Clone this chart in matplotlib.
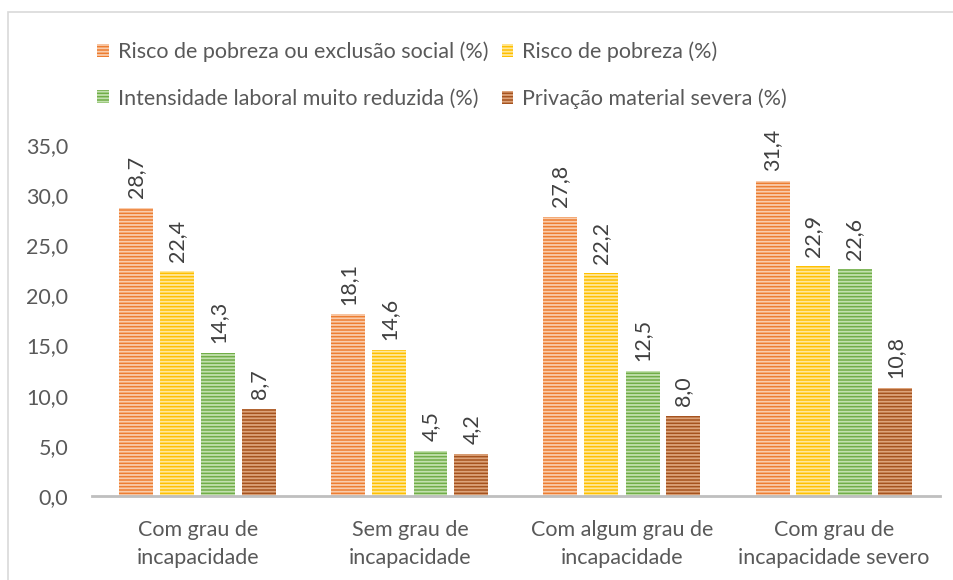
import matplotlib
matplotlib.use('Agg')
import matplotlib.pyplot as plt
from matplotlib.patches import Rectangle
import numpy as np

# data
categories = ["Com grau de\nincapacidade", "Sem grau de\nincapacidade",
              "Com algum grau de\nincapacidade", "Com grau de\nincapacidade severo"]
series_names = ["Risco de pobreza ou exclusão social (%)", "Risco de pobreza (%)",
                "Intensidade laboral muito reduzida (%)", "Privação material severa (%)"]
risco_exclusao = [28.7, 18.1, 27.8, 31.4]
risco_pobreza = [22.4, 14.6, 22.2, 22.9]
intensidade = [14.3, 4.5, 12.5, 22.6]
privacao = [8.7, 4.2, 8.0, 10.8]
yticks = [0, 5, 10, 15, 20, 25, 30, 35]

colors = ["#ED7D31", "#FFC000", "#70AD47", "#A5521E"]
stripes = ["#F9CCAC", "#FFE79A", "#C2E0AE", "#DDA37A"]
gray = "#595959"

plt.rcParams['font.family'] = ['Lato', 'DejaVu Sans']
plt.rcParams['hatch.linewidth'] = 1.3

fig = plt.figure(figsize=(9.54, 5.8), dpi=100)
# light chart frame
fig.patches.append(Rectangle((8 / 954, -0.1), 1.2, 1 - 12 / 580 + 0.1, transform=fig.transFigure,
                             fill=False, edgecolor="#D9D9D9", linewidth=1.2))

ax = fig.add_axes([92 / 954, 1 - 496 / 580, 848 / 954, (496 - 145) / 580])

data = [risco_exclusao, risco_pobreza, intensidade, privacao]
x = np.arange(len(categories))
width = 34 / 212
step = 41 / 212
handles = []
for i, vals in enumerate(data):
    pos = x + (i - 1.5) * step
    bars = ax.bar(pos, vals, width, color=colors[i], edgecolor=stripes[i],
                  hatch="-----", linewidth=0, label=series_names[i])
    handles.append(bars)
    for b, v in zip(bars, vals):
        ax.annotate(("%.1f" % v).replace(".", ","), (b.get_x() + b.get_width() / 2, v),
                    xytext=(0, 7), textcoords="offset points", rotation=90,
                    ha="center", va="bottom", fontsize=15.5, color="#404040")

ax.set_xlim(-0.5, len(categories) - 0.5)
ax.set_ylim(0, 35)
ax.set_yticks(yticks)
ax.set_yticklabels([("%.1f" % t).replace(".", ",") for t in yticks])
ax.set_xticks(x)
ax.set_xticklabels(categories, linespacing=1.5)
ax.tick_params(axis="both", length=0, colors=gray, labelsize=15.5)
ax.tick_params(axis="y", pad=17)
ax.tick_params(axis="x", pad=17)
for s in ["top", "right", "left"]:
    ax.spines[s].set_visible(False)
ax.spines["bottom"].set_color("#BFBFBF")
ax.spines["bottom"].set_linewidth(2)

# legend filled row by row: matplotlib fills columns, so reorder
order = [0, 2, 1, 3]
leg = fig.legend([handles[k] for k in order], [series_names[k] for k in order],
                 loc="upper left", bbox_to_anchor=(82 / 954, 1 - 26 / 580), ncol=2,
                 frameon=False, fontsize=15.5, handlelength=0.55, handleheight=0.55,
                 handletextpad=0.4, columnspacing=0.63, labelspacing=1.25,
                 labelcolor=gray, borderpad=0.2)

plt.savefig("out.png", dpi=100)
